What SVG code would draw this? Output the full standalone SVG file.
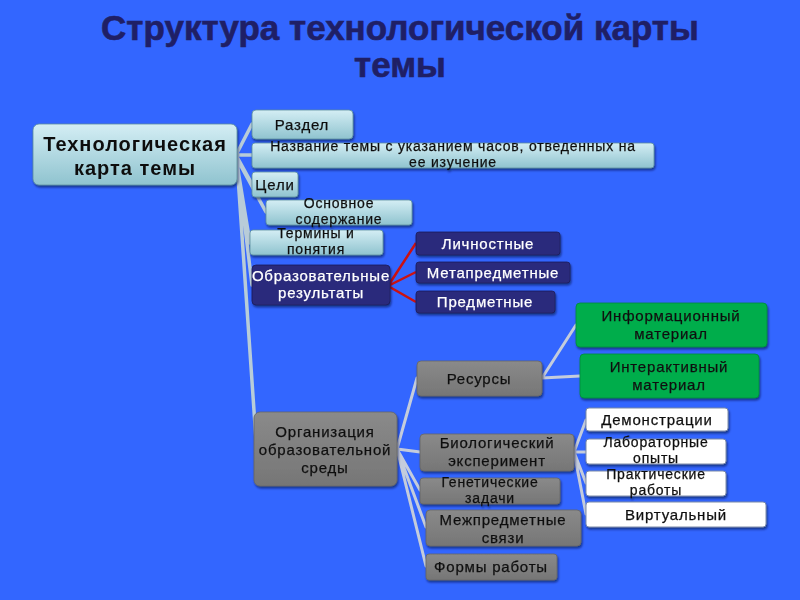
<svg xmlns="http://www.w3.org/2000/svg" width="800" height="600" viewBox="0 0 800 600">
<defs>
<linearGradient id="lb" x1="0" y1="0" x2="0" y2="1"><stop offset="0" stop-color="#d4eef4"/><stop offset="1" stop-color="#8fc3cf"/></linearGradient>
<linearGradient id="gr" x1="0" y1="0" x2="0" y2="1"><stop offset="0" stop-color="#8a8a8a"/><stop offset="1" stop-color="#767676"/></linearGradient>
<filter id="sh" x="-10%" y="-10%" width="120%" height="140%"><feDropShadow dx="1" dy="2" stdDeviation="1" flood-color="#001040" flood-opacity="0.6"/></filter>
</defs>
<style>
.t{font-family:"Liberation Sans",Arial,sans-serif;font-size:15px;fill:#111;stroke:#111;stroke-width:0.25px;text-anchor:middle;letter-spacing:0.8px}
.s{font-size:14px}
.w{fill:#fff;stroke:#fff}
.big{font-size:20px;font-weight:bold;letter-spacing:1px;stroke-width:0}
.lb{fill:url(#lb);stroke:#5a8ea0;stroke-width:0.8}
.nv{fill:#2b2b7c;stroke:#1c1c5a;stroke-width:0.8}
.gy{fill:url(#gr);stroke:#666;stroke-width:0.8}
.gn{fill:#00ad4c;stroke:#008a3a;stroke-width:0.8}
.wh{fill:#fff;stroke:#7a8aa8;stroke-width:1}
.c{stroke:#b8ccd8;stroke-width:3.5;fill:none;stroke-linecap:round}
.cg{stroke:#c4ccdc;stroke-width:3;fill:none;stroke-linecap:round}
.cr{stroke:#cc1111;stroke-width:2.5;fill:none}
.ttl{font-family:"Liberation Sans",Arial,sans-serif;font-weight:bold;font-size:35px;fill:#1f1f66;stroke:#1f1f66;stroke-width:0.6px;text-anchor:middle}
</style>
<rect width="800" height="600" fill="#3366ff"/>
<g id="title">
<text class="ttl" x="400" y="40">Структура технологической карты</text>
<text class="ttl" x="400" y="77">темы</text>
</g>
<g id="connectors">
<path class="c" d="M236 155 L252 124 M236 155 L252 155 M236 155 L252 184 M236 157 L266 212 M236 158 L250 243 M237 160 L252 285 M237 162 L256 440"/>
<path class="cr" d="M388 286 L416 243 M388 286 L416 272 M388 286 L416 302"/>
<path class="cg" d="M397 449 L417 378 M397 449 L420 452 M397 449 L420 490 M397 449 L426 527 M397 449 L426 566"/>
<path class="cg" d="M542 378 L576 325 M542 378 L580 376"/>
<path class="cg" d="M574 452 L586 420 M574 452 L586 452 M574 452 L586 483 M574 452 L586 514"/>
</g>
<g id="n-main" filter="url(#sh)"><rect class="lb" x="33" y="124" width="204" height="61" rx="6"/>
<text class="t big" x="135" y="151">Технологическая</text><text class="t big" x="135" y="175">карта темы</text></g>
<g id="n-razdel" filter="url(#sh)"><rect class="lb" x="252" y="110" width="101" height="29" rx="4"/><text class="t" x="302" y="130">Раздел</text></g>
<g id="n-nazv" filter="url(#sh)"><rect class="lb" x="252" y="143" width="402" height="25" rx="3"/><text class="t s" x="453" y="151">Название темы с указанием часов, отведенных на</text><text class="t s" x="453" y="167">ее изучение</text></g>
<g id="n-celi" filter="url(#sh)"><rect class="lb" x="252" y="172" width="46" height="25" rx="3"/><text class="t" x="275" y="190">Цели</text></g>
<g id="n-osn" filter="url(#sh)"><rect class="lb" x="266" y="200" width="146" height="25" rx="3"/><text class="t s" x="339" y="208">Основное</text><text class="t s" x="339" y="224">содержание</text></g>
<g id="n-term" filter="url(#sh)"><rect class="lb" x="250" y="230" width="133" height="25" rx="3"/><text class="t s" x="316" y="238">Термины и</text><text class="t s" x="316" y="254">понятия</text></g>
<g id="n-obr" filter="url(#sh)"><rect class="nv" x="252" y="265" width="138" height="40" rx="4"/><text class="t w" x="321" y="281">Образовательные</text><text class="t w" x="321" y="298">результаты</text></g>
<g id="n-lich" filter="url(#sh)"><rect class="nv" x="416" y="232" width="144" height="23" rx="3"/><text class="t w" x="488" y="249">Личностные</text></g>
<g id="n-meta" filter="url(#sh)"><rect class="nv" x="416" y="262" width="154" height="21" rx="3"/><text class="t w" x="493" y="278">Метапредметные</text></g>
<g id="n-pred" filter="url(#sh)"><rect class="nv" x="416" y="291" width="139" height="22" rx="3"/><text class="t w" x="485" y="307">Предметные</text></g>
<g id="n-info" filter="url(#sh)"><rect class="gn" x="576" y="303" width="191" height="44" rx="4"/><text class="t" x="671" y="321">Информационный</text><text class="t" x="671" y="339">материал</text></g>
<g id="n-inter" filter="url(#sh)"><rect class="gn" x="580" y="354" width="179" height="44" rx="4"/><text class="t" x="669" y="372">Интерактивный</text><text class="t" x="669" y="390">материал</text></g>
<g id="n-res" filter="url(#sh)"><rect class="gy" x="417" y="361" width="125" height="35" rx="4"/><text class="t" x="479" y="384">Ресурсы</text></g>
<g id="n-org" filter="url(#sh)"><rect class="gy" x="254" y="412" width="143" height="74" rx="6"/><text class="t" x="325" y="437">Организация</text><text class="t" x="325" y="455">образовательной</text><text class="t" x="325" y="473">среды</text></g>
<g id="n-bio" filter="url(#sh)"><rect class="gy" x="420" y="434" width="154" height="37" rx="4"/><text class="t" x="497" y="448">Биологический</text><text class="t" x="497" y="466">эксперимент</text></g>
<g id="n-gen" filter="url(#sh)"><rect class="gy" x="420" y="478" width="140" height="26" rx="3"/><text class="t s" x="490" y="487">Генетические</text><text class="t s" x="490" y="503">задачи</text></g>
<g id="n-mezh" filter="url(#sh)"><rect class="gy" x="426" y="510" width="155" height="36" rx="4"/><text class="t" x="503" y="525">Межпредметные</text><text class="t" x="503" y="543">связи</text></g>
<g id="n-formy" filter="url(#sh)"><rect class="gy" x="426" y="554" width="131" height="26" rx="3"/><text class="t" x="491" y="572">Формы работы</text></g>
<g id="n-dem" filter="url(#sh)"><rect class="wh" x="586" y="408" width="142" height="23" rx="3"/><text class="t" x="657" y="425">Демонстрации</text></g>
<g id="n-lab" filter="url(#sh)"><rect class="wh" x="586" y="439" width="140" height="25" rx="3"/><text class="t s" x="656" y="447">Лабораторные</text><text class="t s" x="656" y="463">опыты</text></g>
<g id="n-prak" filter="url(#sh)"><rect class="wh" x="586" y="471" width="140" height="25" rx="3"/><text class="t s" x="656" y="479">Практические</text><text class="t s" x="656" y="495">работы</text></g>
<g id="n-virt" filter="url(#sh)"><rect class="wh" x="586" y="502" width="180" height="25" rx="3"/><text class="t" x="676" y="520">Виртуальный</text></g>
</svg>
